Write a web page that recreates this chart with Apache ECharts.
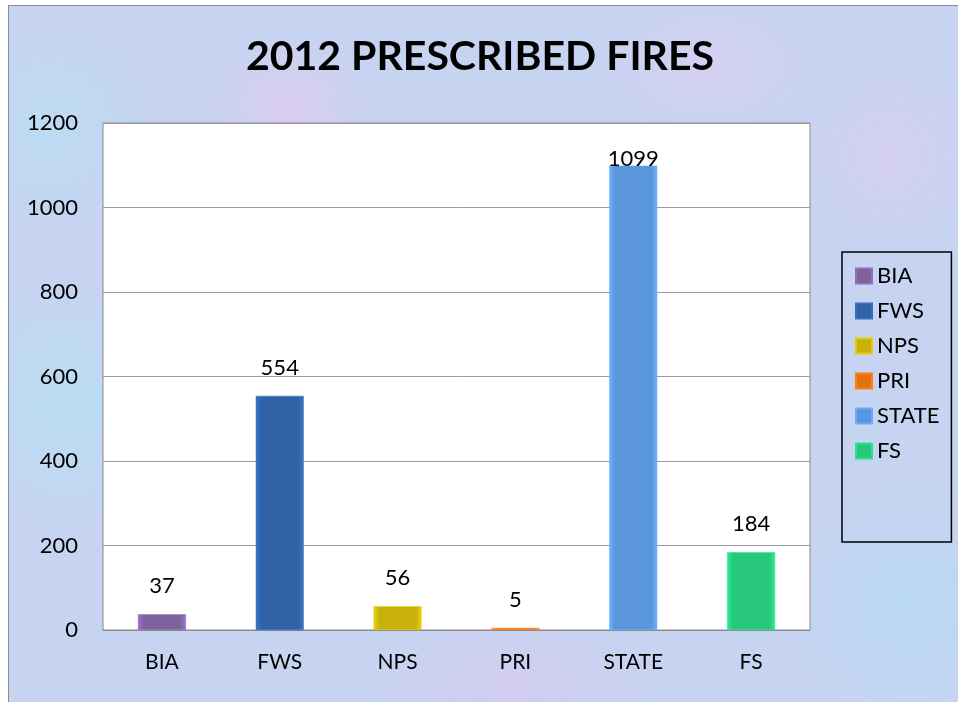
<!DOCTYPE html>
<html><head><meta charset="utf-8">
<script src="https://cdn.jsdelivr.net/npm/echarts@6/dist/echarts.min.js"></script>
<style>
html,body{margin:0;padding:0;background:#fff;}
#wrap{position:absolute;left:8px;top:5px;width:960px;height:710px;border:1.5px solid #8a8a8a;
background:
 radial-gradient(ellipse 90px 70px at 280px 100px, rgba(240,195,235,0.5), transparent),
 radial-gradient(ellipse 120px 80px at 700px 60px, rgba(235,200,240,0.4), transparent),
 radial-gradient(ellipse 120px 120px at 60px 400px, rgba(175,230,245,0.55), transparent),
 radial-gradient(ellipse 160px 80px at 500px 680px, rgba(225,195,240,0.45), transparent),
 radial-gradient(ellipse 120px 120px at 900px 600px, rgba(175,220,245,0.55), transparent),
 radial-gradient(ellipse 100px 100px at 880px 150px, rgba(230,200,240,0.45), transparent),
 radial-gradient(ellipse 100px 100px at 40px 120px, rgba(180,225,245,0.5), transparent),
 #c6d4f1;}
#chart{position:absolute;left:-8px;top:-5px;width:958px;height:702px;}
</style></head>
<body>
<div id="wrap"><div id="chart"></div></div>
<script>
var categories = ['BIA','FWS','NPS','PRI','STATE','FS'];
var values = [37, 554, 56, 5, 1099, 184];
var colors = ['#7e62a0','#2f63a6','#c7b10a','#e2700f','#5b95dc','#27c77c'];
var yTicks = {min:0, max:1200, interval:200};

function grad(c){
  var e = echarts.color.lift(c, -0.2);
  return new echarts.graphic.LinearGradient(0,0,1,0,[
    {offset:0,color:e},{offset:0.12,color:c},{offset:0.88,color:c},{offset:1,color:e}]);
}
var series = categories.map(function(name,i){
  var d = categories.map(function(_,j){ return j===i ? values[j] : null; });
  return {
    name:name, type:'bar', stack:'all', barWidth:48, data:d,
    itemStyle:{color:grad(colors[i]), borderColor:echarts.color.lift(colors[i],-0.15), borderWidth:0.5},
    label:{show:true, position:'top', distance:i===4?-4:17, color:'#000', fontSize:22, fontFamily:'Lato'}
  };
});
var chart = echarts.init(document.getElementById('chart'));
chart.setOption({
  animation:false,
  color: colors,
  title:{text:'2012 PRESCRIBED FIRES', left:'center', top:30,
    textStyle:{fontSize:41, fontWeight:'bold', color:'#000', fontFamily:'Lato'}},
  grid:{left:102, right:149, top:122, bottom:73, show:true, backgroundColor:'#fff', borderColor:'#8a8a8a', borderWidth:1},
  legend:{orient:'vertical', left:841, top:251,
    data:categories, itemWidth:16, itemHeight:15, itemGap:13, icon:'rect',
    borderColor:'#000', borderWidth:1.5, padding:[13,12,80,13],
    textStyle:{fontSize:22, color:'#000', fontFamily:'Lato'}},
  xAxis:{type:'category', data:categories,
    axisLine:{show:true, lineStyle:{color:'#8a8a8a'}}, axisTick:{show:false},
    axisLabel:{color:'#000', fontSize:21, fontFamily:'Lato', margin:22}},
  yAxis:{type:'value', min:yTicks.min, max:yTicks.max, interval:yTicks.interval,
    axisLine:{show:false}, axisTick:{show:false},
    axisLabel:{color:'#000', fontSize:22, fontFamily:'Lato', margin:25, formatter:function(v){return String(v);}},
    splitLine:{lineStyle:{color:'#9a9a9a', width:1}}},
  series: series
});
</script>
</body></html>
